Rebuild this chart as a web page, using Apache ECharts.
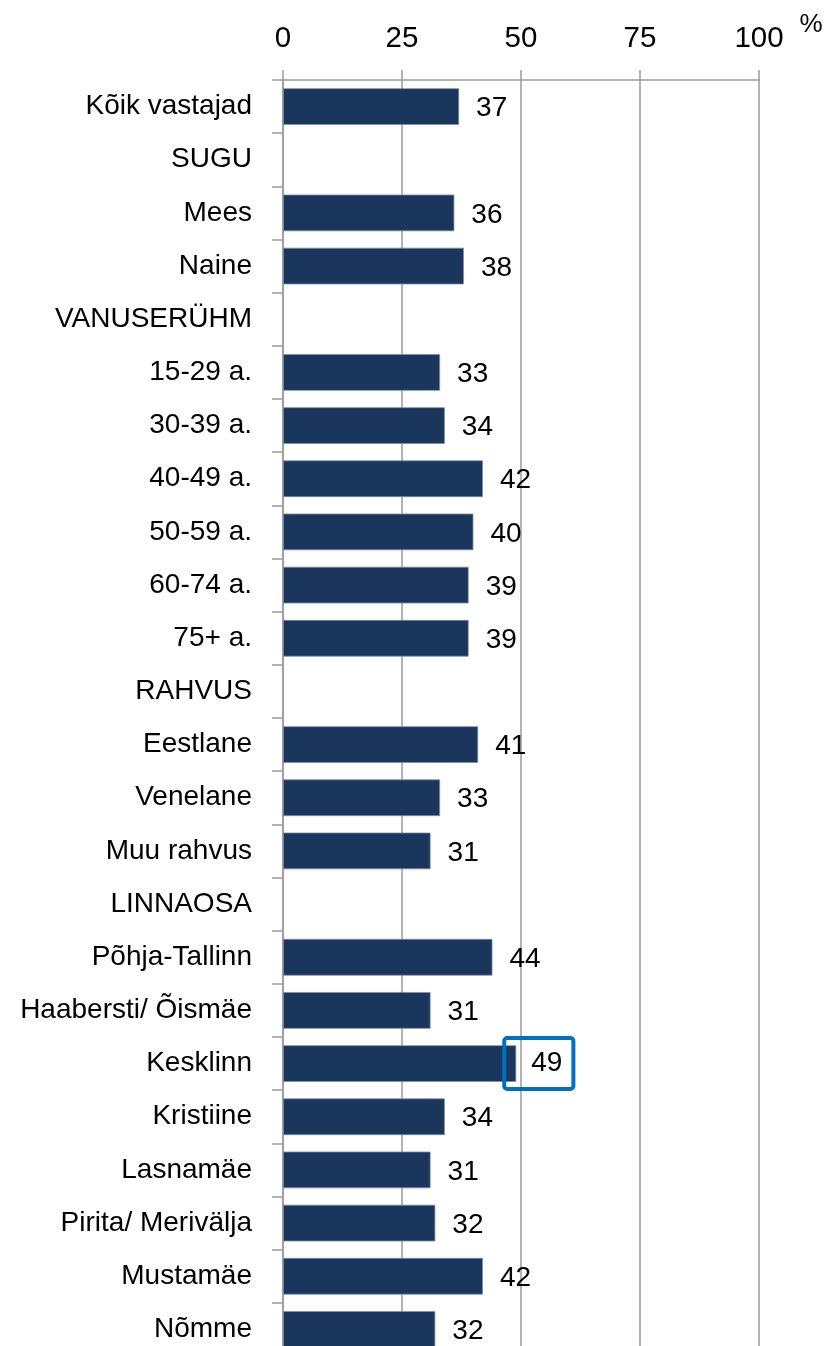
<!DOCTYPE html>
<html>
<head>
<meta charset="utf-8">
<script src="https://cdn.jsdelivr.net/npm/echarts@6/dist/echarts.min.js"></script>
<style>
  html, body { margin: 0; padding: 0; background: #fff; overflow: hidden; }
  /* the reference is cut off at the bottom, so the chart is a bit taller than the window */
  #chart { width: 825px; height: 1356px; }
</style>
</head>
<body>
<div id="chart"></div>
<script>
const categories = [
  'Kõik vastajad', 'SUGU', 'Mees', 'Naine', 'VANUSERÜHM',
  '15-29 a.', '30-39 a.', '40-49 a.', '50-59 a.', '60-74 a.', '75+ a.',
  'RAHVUS', 'Eestlane', 'Venelane', 'Muu rahvus',
  'LINNAOSA', 'Põhja-Tallinn', 'Haabersti/ Õismäe', 'Kesklinn', 'Kristiine',
  'Lasnamäe', 'Pirita/ Merivälja', 'Mustamäe', 'Nõmme'
];
const values = [
  37, null, 36, 38, null,
  33, 34, 42, 40, 39, 39,
  null, 41, 33, 31,
  null, 44, 31, 49, 34,
  31, 32, 42, 32
];
const highlighted = ['Kesklinn'];
const axisTicks = [0, 25, 50, 75, 100];

const font = 'Liberation Sans';
const gridColor = '#9a9a9a';

// the highlighted value gets a blue frame round its label
const data = values.map((v, i) => {
  if (!highlighted.includes(categories[i])) return v;
  return {
    value: v,
    label: {
      distance: 5,
      offset: [-17, 0],
      padding: [12, 11, 11, 27],
      borderColor: '#0070C0',
      borderWidth: 4,
      borderRadius: 3
    }
  };
});

echarts.init(document.getElementById('chart'), null, { renderer: 'canvas' }).setOption({
  animation: false,
  graphic: [{
    type: 'text',
    x: 811,
    y: 25,
    style: {
      text: '%',
      fontFamily: font,
      fontSize: 26,
      fill: '#000',
      align: 'center',
      verticalAlign: 'middle'
    }
  }],
  grid: { left: 283, right: 66, top: 80, bottom: 0 },
  xAxis: {
    type: 'value',
    position: 'top',
    min: axisTicks[0],
    max: axisTicks[axisTicks.length - 1],
    interval: axisTicks[1] - axisTicks[0],
    axisLine: { show: true, lineStyle: { color: gridColor, width: 1.5 } },
    axisTick: { show: true, length: 10, lineStyle: { color: gridColor, width: 1.5 } },
    axisLabel: { margin: 26, fontFamily: font, fontSize: 29.5, color: '#000' },
    splitLine: { show: true, lineStyle: { color: gridColor, width: 1.5 } }
  },
  yAxis: {
    type: 'category',
    inverse: true,
    data: categories,
    axisLine: { show: true, lineStyle: { color: gridColor, width: 1.5 } },
    axisTick: { show: true, length: 11, lineStyle: { color: gridColor, width: 1.5 } },
    axisLabel: { margin: 31, fontFamily: font, fontSize: 28, color: '#000' }
  },
  series: [{
    type: 'bar',
    data: data,
    barCategoryGap: '31%',
    itemStyle: { color: '#1a365d', borderColor: '#7d8fa8', borderWidth: 0.8 },
    label: {
      show: true,
      position: 'right',
      distance: 17,
      offset: [0, 2],
      fontFamily: font,
      fontSize: 28,
      lineHeight: 28,
      color: '#000'
    }
  }]
});
</script>
</body>
</html>
